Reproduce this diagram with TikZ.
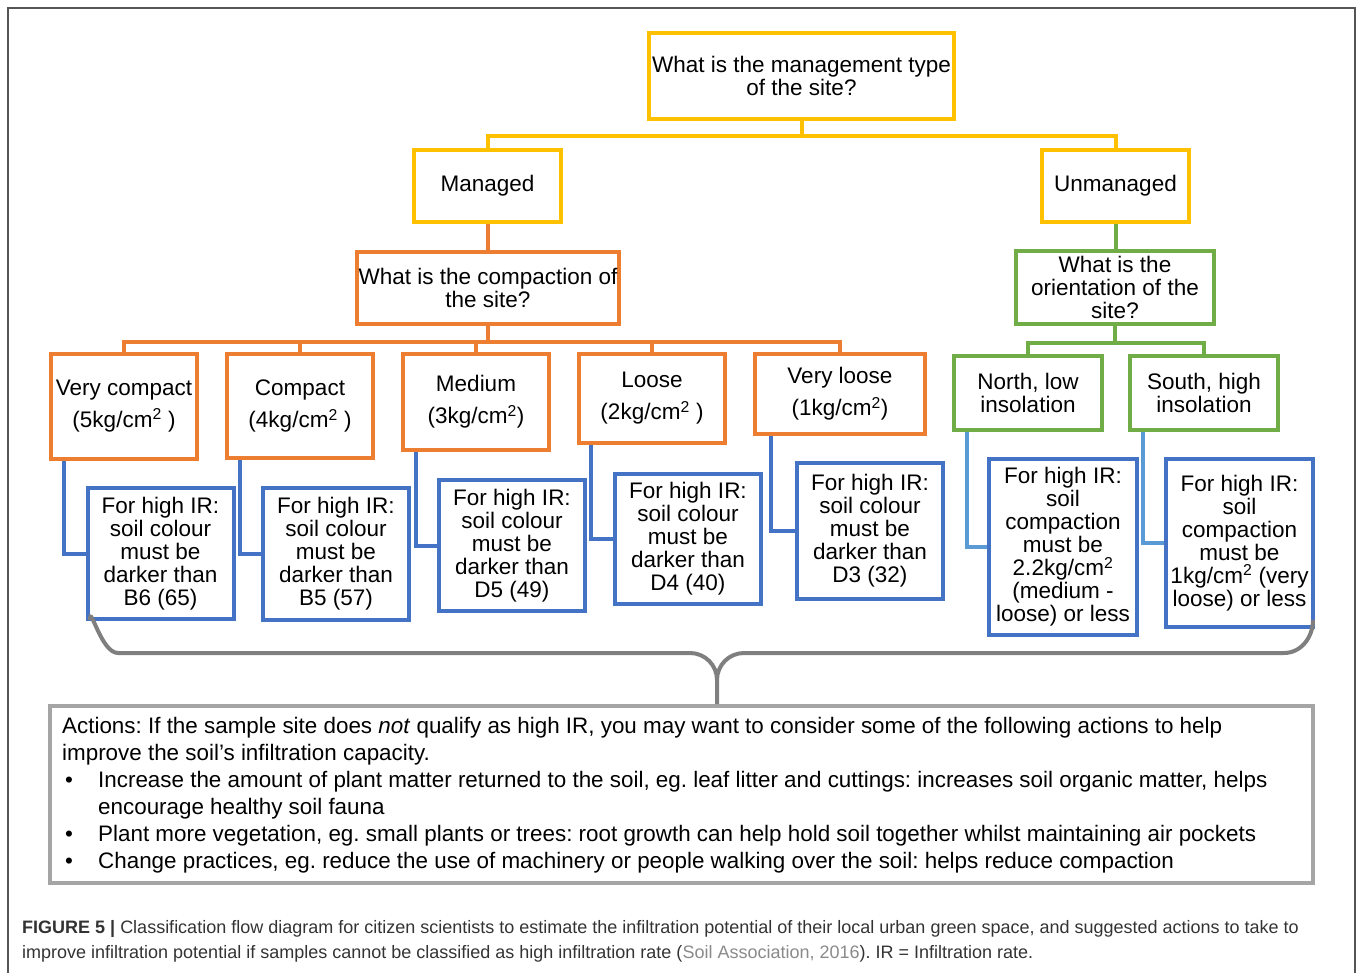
\documentclass[tikz,border=0pt]{standalone}
\usepackage{fontspec}
\setmainfont{Liberation Sans}
\usetikzlibrary{positioning, calc}
\definecolor{qyellow}{HTML}{FFC000}
\definecolor{qorange}{HTML}{ED7D31}
\definecolor{qgreen}{HTML}{70AD47}
\definecolor{qblue}{HTML}{4472C4}
\definecolor{qlblue}{HTML}{5B9BD5}
\definecolor{qgray}{HTML}{7F7F7F}
\definecolor{actgray}{HTML}{A5A5A5}
\definecolor{framegray}{HTML}{555555}
\definecolor{captext}{HTML}{333333}
\definecolor{citegray}{HTML}{8A8A8A}
\frenchspacing
\tikzset{
  qbox/.style={draw=#1, fill=white, line width=4pt, inner sep=0pt,
               align=center, text=black, font=\fontsize{22.5}{23}\selectfont},
  catbox/.style={qbox=#1, font=\fontsize{22.5}{32}\selectfont},
  irbox/.style={qbox=qblue, minimum width=146pt},
  qline/.style={draw=#1, line width=4pt},
}

\begin{document}
\begin{tikzpicture}[x=1pt, y=-1pt]
  \useasboundingbox (0,0) rectangle (1360,972);
  % outer frame
  \draw[framegray, line width=1.5pt] (8,980) -- (8,8) -- (1355,8) -- (1355,980);

  % question and management type
  \node[qbox=qyellow, minimum width=305pt, minimum height=86pt] (mt) at (801.5,76)
    {What is the management type\\of the site?};
  \node[qbox=qyellow, minimum width=147pt, minimum height=72pt] (man) at (487.5,186) {Managed};
  \node[qbox=qyellow, minimum width=147pt, minimum height=72pt] (unm) at (1115.5,186) {Unmanaged};
  \draw[qline=qyellow] (mt.south) -- ++(0,15) coordinate (ybus);
  \draw[qline=qyellow] (ybus) -| (man.north);
  \draw[qline=qyellow] (ybus) -| (unm.north);

  % managed branch
  \node[qbox=qorange, minimum width=262pt, minimum height=72pt] (cq) at (488,288)
    {What is the compaction of\\the site?};
  \draw[qline=qorange] (man.south) -- (man.south |- cq.north);
  \node[catbox=qorange, minimum width=146pt, minimum height=105pt] (vc) at (124,406)
    {Very compact\\(5kg/cm\textsuperscript{2} )};
  \node[catbox=qorange, minimum width=146pt, minimum height=104pt] (co) at (300,406)
    {Compact\\(4kg/cm\textsuperscript{2} )};
  \node[catbox=qorange, minimum width=146pt, minimum height=96pt] (me) at (476,402)
    {Medium\\(3kg/cm\textsuperscript{2})};
  \node[catbox=qorange, minimum width=146pt, minimum height=89pt] (lo) at (652,398.5)
    {Loose\\(2kg/cm\textsuperscript{2} )};
  \node[catbox=qorange, minimum width=170pt, minimum height=80pt] (vl) at (840,394)
    {Very loose\\(1kg/cm\textsuperscript{2})};
  \draw[qline=qorange] (cq.south) -- ++(0,16) coordinate (obus);
  \foreach \n in {vc,co,me,lo,vl}
    \draw[qline=qorange] (obus) -| (\n.north);

  % colour targets
  \node[irbox, minimum height=131pt] (b6) at (160.5,553.5)
    {For high IR:\\soil colour\\must be\\darker than\\B6 (65)};
  \node[irbox, minimum height=132pt] (b5) at (336,554)
    {For high IR:\\soil colour\\must be\\darker than\\B5 (57)};
  \node[irbox, minimum height=131pt] (d5) at (512,545.5)
    {For high IR:\\soil colour\\must be\\darker than\\D5 (49)};
  \node[irbox, minimum height=130pt] (d4) at (688,539)
    {For high IR:\\soil colour\\must be\\darker than\\D4 (40)};
  \node[irbox, minimum height=136pt] (d3) at (870,531)
    {For high IR:\\soil colour\\must be\\darker than\\D3 (32)};
  \draw[qline=qblue] ([xshift=15pt]vc.south west) |- (b6.west);
  \draw[qline=qblue] ([xshift=15pt]co.south west) |- (b5.west);
  \draw[qline=qblue] ([xshift=15pt]me.south west) |- (d5.west);
  \draw[qline=qblue] ([xshift=14pt]lo.south west) |- (d4.west);
  \draw[qline=qblue] ([xshift=18pt]vl.south west) |- (d3.west);

  % unmanaged branch
  \node[qbox=qgreen, minimum width=198pt, minimum height=73pt] (oq) at (1115,287.5)
    {What is the\\orientation of the\\site?};
  \draw[qline=qgreen] (unm.south) -- (unm.south |- oq.north);
  \node[qbox=qgreen, minimum width=148pt, minimum height=74pt] (no) at (1028,393)
    {North, low\\insolation};
  \node[qbox=qgreen, minimum width=148pt, minimum height=74pt] (so) at (1204,393)
    {South, high\\insolation};
  \draw[qline=qgreen] (oq.south) -- ++(0,17) coordinate (gbus);
  \draw[qline=qgreen] (gbus) -| (no.north);
  \draw[qline=qgreen] (gbus) -| (so.north);
  \node[qbox=qblue, minimum width=148pt, minimum height=176pt] (nc) at (1063,547)
    {For high IR:\\soil\\compaction\\must be\\2.2kg/cm\textsuperscript{2}\\(medium -\\loose) or less};
  \node[qbox=qblue, minimum width=147pt, minimum height=168pt] (sc) at (1239.5,543)
    {For high IR:\\soil\\compaction\\must be\\1kg/cm\textsuperscript{2} (very\\loose) or less};
  \draw[qline=qlblue] ([xshift=15pt]no.south west) |- (nc.west);
  \draw[qline=qlblue] ([xshift=15pt]so.south west) |- (sc.west);

  % actions
  \node[draw=actgray, line width=4pt, minimum width=1263pt, minimum height=177pt,
        inner sep=0pt] (act) at (681.5,794.5) {};
  \node[anchor=north west, align=left, inner sep=0pt, text=black,
        font=\fontsize{22.4}{27}\selectfont] (acttxt) at (62,717)
    {Actions: If the sample site does \textit{not} qualify as high IR, you may want to consider some of the following actions to help\\
     improve the soil’s infiltration capacity.\\
     \makebox[36pt][l]{\hspace{3pt}\textbullet}Increase the amount of plant matter returned to the soil, eg. leaf litter and cuttings: increases soil organic matter, helps\\
     \hspace*{36pt}encourage healthy soil fauna\\
     \makebox[36pt][l]{\hspace{3pt}\textbullet}Plant more vegetation, eg. small plants or trees: root growth can help hold soil together whilst maintaining air pockets\\
     \makebox[36pt][l]{\hspace{3pt}\textbullet}Change practices, eg. reduce the use of machinery or people walking over the soil: helps reduce compaction};

  % brace
  \coordinate (tip) at (717,680);
  \draw[qgray, line width=4pt] (90,620) to[out=90,in=180] (118,653) -- (690,653)
    to[out=0,in=90] (tip) -- (tip |- act.north);
  \draw[qgray, line width=4pt] (tip) to[out=90,in=180] (744,653) -- (1284,653)
    to[out=0,in=-90] (1313,620);

  % caption
  \node[anchor=north west, align=left, inner sep=0pt, text=captext,
        font=\fontsize{18}{25}\selectfont] (cap) at (22,920)
    {\textbf{FIGURE 5 |} Classification flow diagram for citizen scientists to estimate the infiltration potential of their local urban green space, and suggested actions to take to\\
     improve infiltration potential if samples cannot be classified as high infiltration rate ({\color{citegray}Soil Association, 2016}). IR = Infiltration rate.};
\end{tikzpicture}
\end{document}
